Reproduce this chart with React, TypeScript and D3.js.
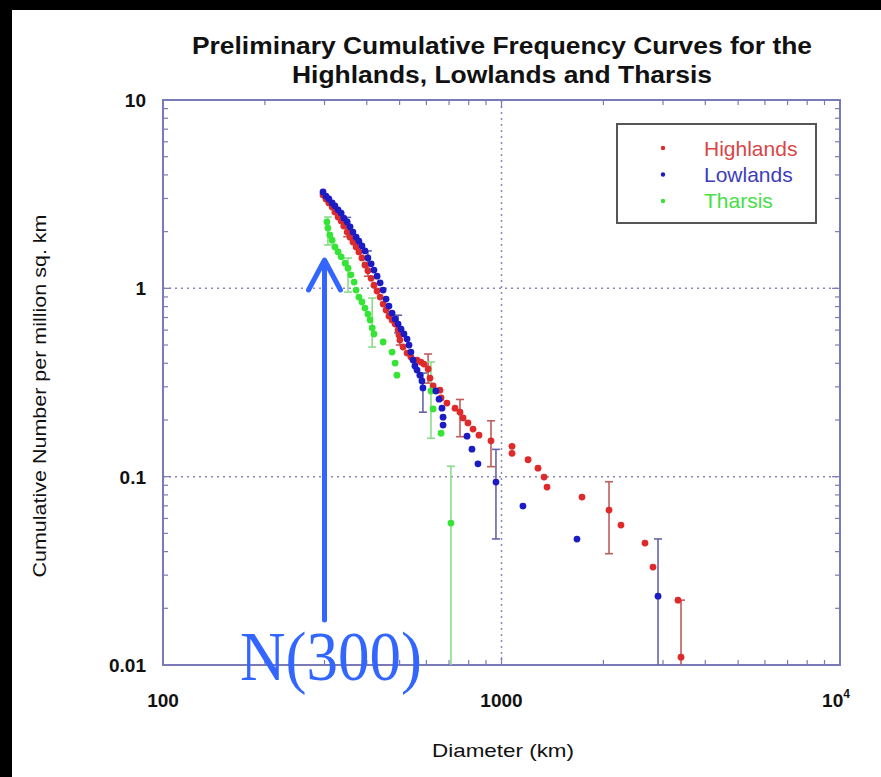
import React, { useEffect, useRef } from "react";
import * as d3 from "d3";

const W = 881;
const H = 777;
const margin = { left: 163, top: 100, right: 41, bottom: 112 };

const titleLines = [
  "Preliminary Cumulative Frequency Curves for the",
  "Highlands, Lowlands and Tharsis",
];
const seriesNames = ["Highlands", "Lowlands", "Tharsis"];
const seriesColors = ["#de2a2a", "#1c1cc4", "#36e436"];
const errorColors = ["#c05c5c", "#6464a8", "#8adc8a"];
const legendTextColors = ["#d84646", "#3c3cbc", "#44e044"];

const xTickLabels = ["100", "1000", "10"];
const yTickLabels = ["0.01", "0.1", "1", "10"];

// [diameter km, cumulative number per million km2]
const highlands = [
  [297, 3.13], [303, 2.98], [309, 2.84], [316, 2.7], [322, 2.54], [329, 2.39],
  [336, 2.28], [342, 2.14], [350, 1.99], [357, 1.87], [364, 1.76], [372, 1.66],
  [379, 1.56], [387, 1.45], [395, 1.33], [403, 1.24], [412, 1.13], [420, 1.04],
  [429, 0.968], [438, 0.899], [447, 0.825], [456, 0.767], [465, 0.713], [475, 0.679],
  [485, 0.646], [495, 0.601], [498, 0.565], [501, 0.531], [512, 0.488], [526, 0.453],
  [540, 0.432], [563, 0.416], [578, 0.406], [590, 0.396], [607, 0.373], [615, 0.334],
  [628, 0.303], [658, 0.288], [663, 0.262], [690, 0.246], [729, 0.231], [754, 0.22],
  [770, 0.205], [796, 0.193], [824, 0.179], [858, 0.166], [931, 0.155], [1074, 0.145],
  [1074, 0.133], [1198, 0.123], [1282, 0.111], [1336, 0.0995], [1363, 0.0881],
  [1729, 0.0779], [2078, 0.0665], [2254, 0.0553], [2654, 0.0444], [2803, 0.0331],
  [3322, 0.0221], [3391, 0.011],
];

const lowlands = [
  [297, 3.25], [303, 3.09], [309, 2.98], [316, 2.84], [322, 2.74], [329, 2.61],
  [336, 2.51], [342, 2.36], [350, 2.25], [357, 2.12], [364, 1.99], [372, 1.87],
  [379, 1.78], [387, 1.68], [395, 1.58], [403, 1.45], [412, 1.35], [420, 1.25],
  [429, 1.16], [438, 1.07], [447, 0.979], [456, 0.877], [465, 0.805], [475, 0.739],
  [485, 0.687], [495, 0.646], [505, 0.608], [515, 0.572], [526, 0.538], [533, 0.5],
  [540, 0.459], [548, 0.416], [555, 0.387], [563, 0.368], [574, 0.346], [582, 0.322],
  [586, 0.296], [640, 0.285], [654, 0.258], [667, 0.231], [672, 0.207], [672, 0.188],
  [791, 0.164], [818, 0.14], [852, 0.117], [963, 0.0936], [1157, 0.0698],
  [1671, 0.0466], [2900, 0.0232],
];

const tharsis = [
  [305, 2.25], [307, 2.09], [311, 1.92], [316, 1.8], [322, 1.66], [329, 1.56],
  [336, 1.47], [345, 1.36], [352, 1.28], [359, 1.18], [367, 1.08], [372, 0.979],
  [379, 0.899], [387, 0.846], [395, 0.786], [403, 0.73], [409, 0.679], [415, 0.616],
  [420, 0.572], [447, 0.519], [475, 0.459], [485, 0.401], [491, 0.346], [619, 0.285],
  [628, 0.229], [663, 0.17], [709, 0.0567],
];

// [diameter, low, high]
const highlandsErr = [
  [350, 1.88, 2.1], [403, 1.16, 1.33], [501, 0.5, 0.56], [607, 0.314, 0.448],
  [754, 0.163, 0.257], [931, 0.113, 0.198], [2078, 0.039, 0.094], [3391, 0.001, 0.0221],
];
const lowlandsErr = [
  [350, 2.1, 2.38], [403, 1.35, 1.58], [495, 0.58, 0.72], [586, 0.22, 0.355],
  [963, 0.0467, 0.1396], [2900, 0.001, 0.0467],
];
const tharsisErr = [
  [307, 1.7, 2.39], [352, 0.955, 1.448], [415, 0.488, 0.888], [619, 0.16, 0.406],
  [709, 0.001, 0.1137],
];

function CraterChart() {
  const svgRef = useRef(null);

  useEffect(() => {
    const svg = d3.select(svgRef.current);
    svg.selectAll("*").remove();

    const x = d3.scaleLog().domain([100, 10000]).range([margin.left, W - margin.right]);
    const y = d3.scaleLog().domain([0.01, 10]).range([H - margin.bottom, margin.top]);
    const [x0, x1] = x.range();
    const [y0, y1] = y.range(); // y0 bottom, y1 top
    const axisColor = "#7a7ab8";

    svg.append("rect").attr("width", W).attr("height", H).attr("fill", "#fff");
    // black bands of the screen capture
    svg.append("rect").attr("width", W).attr("height", 10).attr("fill", "#000");
    svg.append("rect").attr("width", 12).attr("height", H).attr("fill", "#000");

    // title
    svg.selectAll(".title")
      .data(titleLines)
      .join("text")
      .attr("class", "title")
      .attr("x", 502)
      .attr("y", (d, i) => 54 + i * 29)
      .attr("text-anchor", "middle")
      .attr("font-family", "Liberation Sans, Arial, sans-serif")
      .attr("font-weight", "bold")
      .attr("font-size", 23)
      .attr("textLength", (d, i) => (i === 0 ? 620 : 420))
      .attr("lengthAdjust", "spacingAndGlyphs")
      .attr("fill", "#111")
      .text(d => d);

    const defs = svg.append("defs");
    defs.append("clipPath").attr("id", "plot-clip")
      .append("rect").attr("x", x0).attr("y", y1).attr("width", x1 - x0).attr("height", y0 - y1);

    // grid (dotted) at 1000, 1, 0.1
    const grid = svg.append("g")
      .attr("stroke", "#8a8ab8")
      .attr("stroke-width", 1.5)
      .attr("stroke-dasharray", "2,4");
    grid.append("line").attr("x1", x(1000)).attr("x2", x(1000)).attr("y1", y1).attr("y2", y0);
    [1, 0.1].forEach(v => {
      grid.append("line").attr("x1", x0).attr("x2", x1).attr("y1", y(v)).attr("y2", y(v));
    });

    // ticks inside on all four sides
    const isMajor = v => Math.abs(Math.log10(v) - Math.round(Math.log10(v))) < 1e-9;
    const ticks = svg.append("g").attr("stroke", axisColor).attr("stroke-width", 1.2);
    x.ticks().forEach(v => {
      const len = isMajor(v) ? 8 : 5;
      ticks.append("line").attr("x1", x(v)).attr("x2", x(v)).attr("y1", y0).attr("y2", y0 - len);
      ticks.append("line").attr("x1", x(v)).attr("x2", x(v)).attr("y1", y1).attr("y2", y1 + len);
    });
    y.ticks().forEach(v => {
      const len = isMajor(v) ? 8 : 5;
      ticks.append("line").attr("x1", x0).attr("x2", x0 + len).attr("y1", y(v)).attr("y2", y(v));
      ticks.append("line").attr("x1", x1).attr("x2", x1 - len).attr("y1", y(v)).attr("y2", y(v));
    });

    svg.append("rect")
      .attr("x", x0).attr("y", y1)
      .attr("width", x1 - x0).attr("height", y0 - y1)
      .attr("fill", "none")
      .attr("stroke", axisColor)
      .attr("stroke-width", 2);

    // tick labels
    const labelFont = "Liberation Sans, Arial, sans-serif";
    [0.01, 0.1, 1, 10].forEach((v, i) => {
      svg.append("text")
        .attr("x", 146).attr("y", y(v) + 7)
        .attr("text-anchor", "end")
        .attr("font-family", labelFont).attr("font-weight", "bold").attr("font-size", 19)
        .attr("fill", "#111")
        .text(yTickLabels[i]);
    });
    [100, 1000, 10000].forEach((v, i) => {
      const t = svg.append("text")
        .attr("x", x(v) + (i === 2 ? -4 : 0)).attr("y", 707)
        .attr("text-anchor", "middle")
        .attr("font-family", labelFont).attr("font-weight", "bold").attr("font-size", 19)
        .attr("fill", "#111")
        .text(xTickLabels[i]);
      if (i === 2) {
        t.append("tspan").attr("dy", -9).attr("font-size", 12).text("4");
      }
    });

    // axis titles
    svg.append("text")
      .attr("transform", "translate(46,396) rotate(-90)")
      .attr("text-anchor", "middle")
      .attr("font-family", labelFont).attr("font-size", 19)
      .attr("textLength", 363).attr("lengthAdjust", "spacingAndGlyphs")
      .attr("fill", "#111")
      .text("Cumulative Number per million sq. km");
    svg.append("text")
      .attr("x", 503).attr("y", 757)
      .attr("text-anchor", "middle")
      .attr("font-family", labelFont).attr("font-size", 19)
      .attr("textLength", 142).attr("lengthAdjust", "spacingAndGlyphs")
      .attr("fill", "#111")
      .text("Diameter (km)");

    // data
    const plot = svg.append("g").attr("clip-path", "url(#plot-clip)");
    const series = [
      { data: highlands, err: highlandsErr, i: 0 },
      { data: tharsis, err: tharsisErr, i: 2 },
      { data: lowlands, err: lowlandsErr, i: 1 },
    ];
    series.forEach(s => {
      const g = plot.append("g").attr("stroke", errorColors[s.i]).attr("stroke-width", 1.6);
      s.err.forEach(([d, lo, hi]) => {
        g.append("line").attr("x1", x(d)).attr("x2", x(d)).attr("y1", y(lo)).attr("y2", y(hi));
        [lo, hi].forEach(v => {
          g.append("line").attr("x1", x(d) - 4).attr("x2", x(d) + 4).attr("y1", y(v)).attr("y2", y(v));
        });
      });
    });
    series.forEach(s => {
      plot.append("g")
        .selectAll("circle")
        .data(s.data)
        .join("circle")
        .attr("cx", d => x(d[0]))
        .attr("cy", d => y(d[1]))
        .attr("r", 3.4)
        .attr("fill", seriesColors[s.i]);
    });

    // legend
    const lg = svg.append("g");
    lg.append("rect")
      .attr("x", 617).attr("y", 124).attr("width", 199).attr("height", 99)
      .attr("fill", "#fff").attr("stroke", "#555").attr("stroke-width", 2);
    seriesNames.forEach((name, i) => {
      lg.append("circle").attr("cx", 663).attr("cy", 148 + i * 26.5).attr("r", 2.2).attr("fill", seriesColors[i]);
      lg.append("text")
        .attr("x", 704).attr("y", 156 + i * 26)
        .attr("font-family", labelFont).attr("font-size", 21)
        .attr("fill", legendTextColors[i])
        .text(name);
    });

    // N(300) annotation arrow
    const arrowColor = "#3366ff";
    const ax = x(300);
    const ann = svg.append("g")
      .attr("stroke", arrowColor).attr("stroke-width", 5)
      .attr("stroke-linecap", "round").attr("stroke-linejoin", "round").attr("fill", "none");
    ann.append("line").attr("x1", ax).attr("x2", ax).attr("y1", 620).attr("y2", 262);
    ann.append("path").attr("d", `M${ax - 16},${290} L${ax},${260} L${ax + 16},${290}`);
    svg.append("text")
      .attr("x", 240).attr("y", 680)
      .attr("font-family", "Liberation Serif, Times New Roman, serif")
      .attr("font-size", 70)
      .attr("textLength", 182).attr("lengthAdjust", "spacingAndGlyphs")
      .attr("fill", arrowColor)
      .text("N(300)");
  }, []);

  return (
    <div style={{ position: "absolute", left: 0, top: 0 }}>
      <svg ref={svgRef} width={W} height={H} style={{ display: "block" }} />
    </div>
  );
}

export default function App() {
  return <CraterChart />;
}
